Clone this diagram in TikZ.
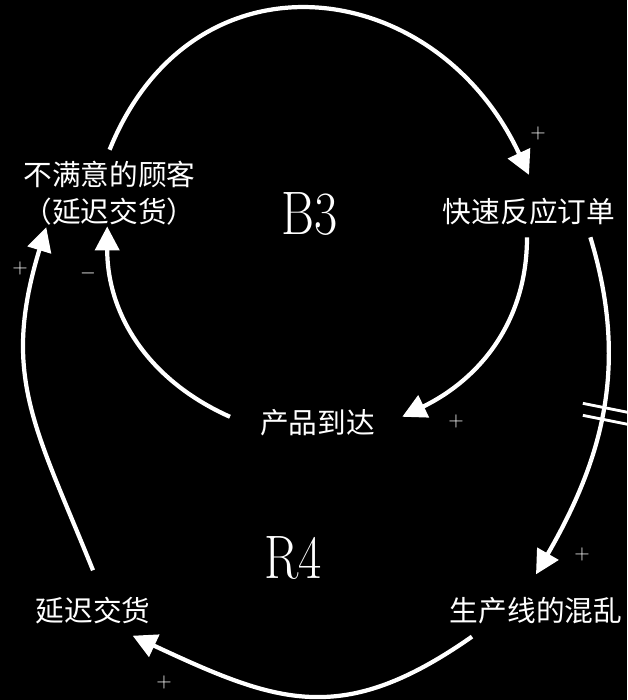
\documentclass[tikz,border=0pt]{standalone}
\usepackage{fontspec}
\newfontfamily\cjk{Noto Sans CJK SC}
\usetikzlibrary{calc,arrows.meta}
\tikzset{>={Triangle[length=17pt,width=17pt]}}
\tikzset{
  var/.style = {text=white, inner sep=0pt, align=center, font=\cjk\fontsize{20.4}{26.2}\selectfont},
  loopname/.style = {text=white, inner sep=0pt, font=\fontsize{43.7}{44}\selectfont, xscale=.82, transform shape},
  link/.style = {->, draw=white, line width=3pt},
  delaymark/.style = {draw=white, line width=2pt},
  sign/.style = {text=white, inner sep=0pt, font=\fontsize{15}{15}\selectfont}
}
\newcommand{\picw}{15.675}
\newcommand{\pich}{17.5}

\begin{document}
\begin{tikzpicture}
  \useasboundingbox (0,0) rectangle (\picw,\pich);
  \fill[black] (0,0) rectangle (\picw,\pich);
  \node[var] (cust)   at (2.74,12.675) {不满意的顾客\\（延迟交货）};
  \node[var] (fast)   at (13.225,12.21) {快速反应订单};
  \node[var] (arrive) at (7.94,6.94) {产品到达};
  \node[var] (delay)  at (2.325,2.225) {延迟交货};
  \node[var] (chaos)  at (13.4,2.225) {生产线的混乱};
  \node[loopname] (b3) at (7.75,12.15) {B3};
  \node[loopname] (r4) at (7.325,3.55) {R4};
  \draw[link] ($(cust.north)+(0,0.275)$) to[out=68,in=115,looseness=1.35] ($(fast.north)+(0,0.575)$);
  \draw[link] ($(fast.south)+(-0.05,-0.3)$) to[out=-90,in=26] ($(arrive.east)+(0.675,0.14)$);
  \draw[link] ($(arrive.west)+(-0.75,0.14)$) to[out=156,in=-90] ($(cust.south)+(-0.06,-0.03)$);
  \draw[link] ($(fast.south east)+(-0.625,-0.3)$) to[out=-73,in=60] coordinate[pos=0.5] (lag) ($(chaos.north)+(0,0.575)$);
  \draw[delaymark] ($(lag)+(-0.5,0.175)$) -- ++(1.3,-0.26);
  \draw[delaymark] ($(lag)+(-0.5,-0.125)$) -- ++(1.3,-0.26);
  \draw[link] ($(chaos.south)+(-1.6,-0.3)$) to[out=215,in=-25,looseness=1.2] ($(delay.south east)+(-0.45,-0.275)$);
  \draw[link] ($(delay.north)+(0,0.675)$) to[out=112,in=-107,looseness=1.15] ($(cust.south west)+(0.575,-0.05)$);
  \node[sign] (s1) at (13.45,14.175) {$+$};
  \node[sign] (s2) at (11.4,6.975)   {$+$};
  \node[sign] (s3) at (2.2,10.675)   {$-$};
  \node[sign] (s4) at (14.55,3.65)   {$+$};
  \node[sign] (s5) at (4.1,0.45)     {$+$};
  \node[sign] (s6) at (0.5,10.8)     {$+$};
\end{tikzpicture}
\end{document}
